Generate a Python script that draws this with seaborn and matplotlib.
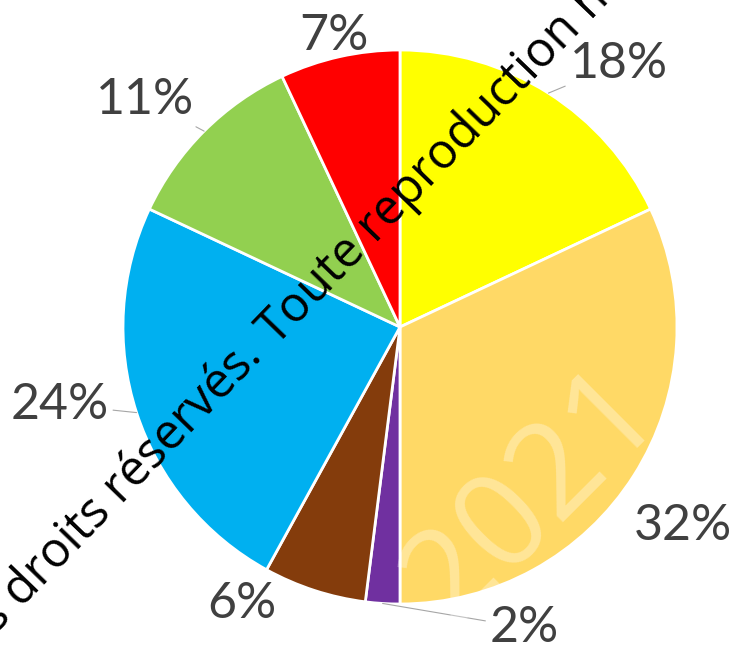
import numpy as np
import matplotlib.pyplot as plt
import seaborn as sns

sns.set_theme(style="white")
plt.rcParams['font.family'] = ['Lato', 'DejaVu Sans']

# slices, clockwise from 12 o'clock
shares = [18, 32, 2, 6, 24, 11, 7]
labels = ['18%', '32%', '2%', '6%', '24%', '11%', '7%']
colors = ['#FFFF00', '#FFD966', '#7030A0', '#843C0C', '#00B0F0', '#92D050', '#FF0000']

# where each label sits (pie radius = 1) and whether it has a leader line
label_xy = [(0.79, 0.95), (1.02, -0.72), (0.45, -1.085), (-0.57, -1.0),
            (-1.23, -0.28), (-0.92, 0.82), (-0.24, 1.05)]
leader = [True, False, True, False, True, True, False]

fig = plt.figure(figsize=(7.35, 6.47), dpi=100)
ax = fig.add_axes([0, 0, 1, 1])
wedges, _ = ax.pie(shares, colors=colors, startangle=90, counterclock=False,
                   wedgeprops=dict(edgecolor='white', linewidth=2.0))

R = 277  # pie radius in pixels
ax.set_xlim(-400 / R, 335 / R)
ax.set_ylim(-320 / R, 327 / R)
ax.set_aspect('auto')
ax.axis('off')

lab_style = dict(ha='center', va='center', fontsize=36, color='#404040')
for w, lab, (tx, ty), line in zip(wedges, labels, label_xy, leader):
    mid = np.deg2rad((w.theta1 + w.theta2) / 2)
    edge = (np.cos(mid), np.sin(mid))
    if line:
        ax.annotate(lab, xy=edge, xytext=(tx, ty), **lab_style,
                    arrowprops=dict(arrowstyle='-', color='#A6A6A6', lw=0.8,
                                    shrinkA=1, shrinkB=0))
    else:
        ax.text(tx, ty, lab, **lab_style)

# copyright watermarks
mark = dict(fontsize=35, color='black', rotation=46, rotation_mode='anchor',
            va='baseline', family=['Open Sans', 'DejaVu Sans'], zorder=5)
ax.text(-0.448, -0.072, 'Toute reproduction même partielle interdite', ha='left', **mark)
ax.text(-0.491, -0.112, 'Tous droits réservés.', ha='right', **mark)

stamp = ax.text(0.48, -0.614, '2021', ha='center', va='center', rotation=45,
                rotation_mode='anchor', fontsize=95, color='white', alpha=0.33,
                family=['Open Sans', 'DejaVu Sans'], zorder=3, clip_on=True)
stamp.set_clip_path(wedges[1])

fig.savefig('out.png', dpi=100)
